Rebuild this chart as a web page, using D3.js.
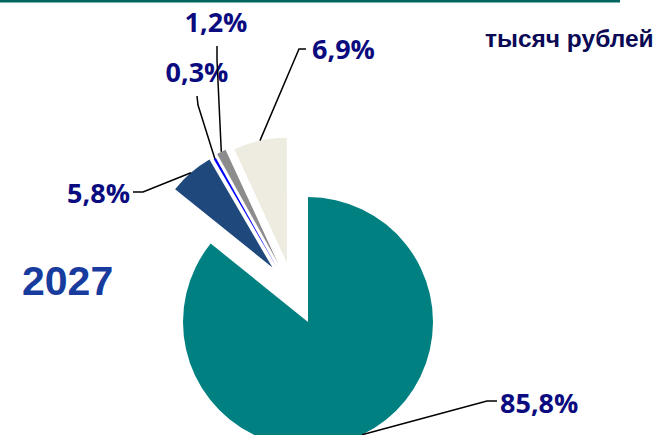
<!DOCTYPE html>
<html>
<head>
<meta charset="utf-8">
<script src="https://cdn.jsdelivr.net/npm/d3@7"></script>
<style>
  html, body { margin: 0; padding: 0; background: #ffffff; }
  svg { display: block; }
</style>
</head>
<body>
<svg id="chart" width="656" height="435"></svg>
<script>
// ---- data ----
const categories = ["Доля 1", "Доля 2", "Доля 3", "Доля 4", "Доля 5"];
const values = [85.8, 5.8, 0.3, 1.2, 6.9];
const valueLabels = ["85,8%", "5,8%", "0,3%", "1,2%", "6,9%"];
const yearLabel = "2027";
const unitLabel = "тысяч рублей";

// ---- styles / layout ----
const colors = ["#008080", "#1F497D", "#0000FF", "#8C8C8C", "#EEECE1"];
const explode = [0, 65, 63, 66, 63];          // explosion distance (px)
const explodeTurn = [0, 7.5, 0, 0, -7.2];     // direction tweak vs bisector (deg)
const W = 656, H = 435;
const cx = 308, cy = 322, R = 125;
// label anchor layout: elbow point of leader, end of leader, text position
const labelLayout = [
  { elbow: [487, 401], end: [497, 401], tx: 500, ty: 413, anchor: "start" },
  { elbow: [143, 192], end: [133, 192], tx: 130, ty: 203, anchor: "end" },
  { elbow: [198, 105], end: [197, 96],  tx: 197, ty: 82,  anchor: "middle" },
  { elbow: [217, 60],  end: [217, 46],  tx: 216, ty: 32,  anchor: "middle" },
  { elbow: [299, 49],  end: [306, 49],  tx: 312, ty: 59,  anchor: "start" }
];

const svg = d3.select("#chart");

// top rule
svg.append("rect").attr("x", 0).attr("y", 0).attr("width", 620).attr("height", 2.5)
  .attr("fill", "#00665E");

const pie = d3.pie().sort(null).startAngle(0).endAngle(2 * Math.PI);
const arcs = pie(values);
const arc = d3.arc().innerRadius(0).outerRadius(R);

const g = svg.append("g").attr("transform", `translate(${cx},${cy})`);

function offsetOf(d, i) {
  const a = (d.startAngle + d.endAngle) / 2 + explodeTurn[i] * Math.PI / 180;
  return [explode[i] * Math.sin(a), -explode[i] * Math.cos(a)];
}

g.selectAll("path.slice").data(arcs).enter().append("path")
  .attr("class", "slice")
  .attr("d", arc)
  .attr("fill", (d, i) => colors[i])
  .attr("transform", (d, i) => { const o = offsetOf(d, i); return `translate(${o[0]},${o[1]})`; });

// leader lines + labels
arcs.forEach((d, i) => {
  const a = (d.startAngle + d.endAngle) / 2;
  const o = offsetOf(d, i);
  const sx = cx + o[0] + R * Math.sin(a);
  const sy = cy + o[1] - R * Math.cos(a);
  const L = labelLayout[i];
  svg.append("path")
    .attr("d", d3.line()([[sx, sy], L.elbow, L.end]))
    .attr("fill", "none").attr("stroke", "#000").attr("stroke-width", 1.5);
  svg.append("text")
    .attr("x", L.tx).attr("y", L.ty)
    .attr("text-anchor", L.anchor)
    .attr("font-family", "'Open Sans', 'Noto Sans', sans-serif")
    .attr("font-weight", 700).attr("font-size", 27)
    .attr("fill", "#0B0B80")
    .text(valueLabels[i]);
});

svg.append("text").attr("x", 22).attr("y", 295)
  .attr("font-family", "'Liberation Sans', Arial, sans-serif")
  .attr("font-weight", 700).attr("font-size", 41)
  .attr("fill", "#173C9E").text(yearLabel);

svg.append("text").attr("x", 485).attr("y", 47)
  .attr("font-family", "'Liberation Sans', Arial, sans-serif")
  .attr("font-weight", 700).attr("font-size", 24.5)
  .attr("fill", "#0A0A55").text(unitLabel);
</script>
</body>
</html>
